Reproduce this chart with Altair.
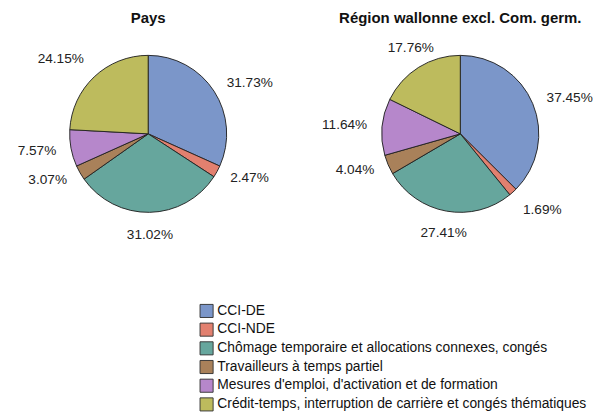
import altair as alt
import pandas as pd

categories = [
    "CCI-DE",
    "CCI-NDE",
    "Chômage temporaire et allocations connexes, congés",
    "Travailleurs à temps partiel",
    "Mesures d'emploi, d'activation et de formation",
    "Crédit-temps, interruption de carrière et congés thématiques",
]
pays_values = [31.73, 2.47, 31.02, 3.07, 7.57, 24.15]
wallonie_values = [37.45, 1.69, 27.41, 4.04, 11.64, 17.76]
titles = ["Pays", "Région wallonne excl. Com. germ."]
colors = ["#7B96C9", "#E2806F", "#66A69D", "#A9815A", "#B687CB", "#BDBB5D"]

FONT = "Liberation Sans"
TWO_PI = 6.283185307179586


def pie(values, title):
    df = pd.DataFrame({"cat": categories, "value": values, "idx": list(range(len(categories)))})
    base = alt.Chart(df).transform_joinaggregate(
        total="sum(value)"
    ).transform_window(
        cum="sum(value)", sort=[alt.SortField("idx")], frame=[None, 0]
    ).transform_calculate(
        frac="datum.value / datum.total",
        mid="(datum.cum - datum.value / 2) / datum.total",
        s="sin(2 * PI * datum.mid)",
        c="cos(2 * PI * datum.mid)",
        label="format(datum.value, '.2f') + '%'",
    )
    theta_scale = alt.Scale(domain=[0, 1], range=[0, TWO_PI])
    arcs = base.mark_arc(stroke="#222222", strokeWidth=1, radius=84).encode(
        theta=alt.Theta("frac:Q", stack=True, scale=theta_scale),
        color=alt.Color(
            "cat:N",
            scale=alt.Scale(domain=categories, range=colors),
            sort=categories,
            legend=alt.Legend(
                title=None,
                orient="none",
                legendX=185,
                legendY=288,
                direction="vertical",
                symbolType="square",
                symbolSize=196,
                symbolStrokeColor="#333333",
                symbolStrokeWidth=1,
                symbolOpacity=1,
                labelFont=FONT,
                labelFontSize=14.8,
                labelColor="#111111",
                labelOffset=4,
                rowPadding=1,
                labelLimit=500,
            ),
        ),
        order=alt.Order("idx:Q"),
    )
    labels = base.mark_text(
        radius=100,
        font=FONT,
        fontSize=14.6,
        color="#222222",
        align=alt.ExprRef("datum.s > 0.6 ? 'left' : (datum.s < -0.6 ? 'right' : 'center')"),
        baseline=alt.ExprRef("datum.c > 0.6 ? 'bottom' : (datum.c < -0.6 ? 'top' : 'middle')"),
    ).encode(
        theta=alt.Theta("mid:Q", stack=None, scale=theta_scale),
        text="label:N",
    )
    return alt.layer(arcs, labels).properties(
        width=260,
        height=212,
        title=alt.TitleParams(title, font=FONT, fontSize=16, fontWeight="bold", color="#111111", offset=10),
    )


chart = alt.hconcat(
    pie(pays_values, titles[0]), pie(wallonie_values, titles[1]), spacing=51
).properties(
    padding={"left": 10, "top": -12, "right": 0, "bottom": 0}
).configure_view(stroke=None).configure_concat(spacing=51)

chart.save("out.html", embed_options={"renderer": "svg", "actions": False})
